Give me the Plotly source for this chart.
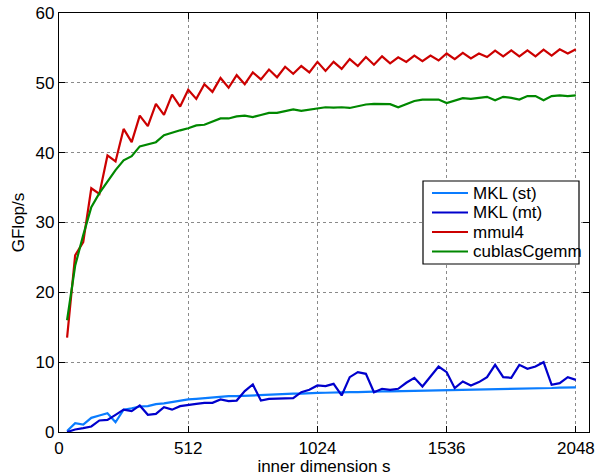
import plotly.graph_objects as go

s = list(range(32, 2049, 32))

mkl_st = [0.14, 1.26, 1.07, 2.03, 2.36, 2.7, 1.4, 3.2, 3.4, 3.65,
          3.7, 4.0, 4.1, 4.3, 4.47, 4.66, 4.75, 4.85, 4.9, 5.04,
          5.13, 5.13, 5.18, 5.28, 5.37, 5.42, 5.47, 5.5, 5.5, 5.5,
          5.6, 5.6, 5.62, 5.68, 5.68, 5.72, 5.72, 5.78, 5.8, 5.82,
          5.83, 5.85, 5.87, 5.88, 5.9, 5.92, 5.95, 6.05, 6.05, 6.08,
          6.1, 6.1, 6.12, 6.15, 6.15, 6.18, 6.2, 6.22, 6.25, 6.28,
          6.3, 6.35, 6.38, 6.4]

mkl_mt = [0.0, 0.36, 0.55, 0.79, 1.65, 1.74, 2.46, 3.2, 2.98, 3.8,
          2.46, 2.6, 3.56, 3.2, 3.7, 3.9, 4.04, 4.18, 4.18, 4.66,
          4.42, 4.5, 5.85, 6.8, 4.5, 4.75, 4.8, 4.85, 4.85, 5.7,
          6.04, 6.66, 6.57, 6.9, 5.23, 7.85, 8.57, 8.33, 5.7, 6.19,
          6.04, 6.19, 7.05, 7.76, 6.52, 7.95, 9.38, 8.57, 6.28, 7.23,
          6.66, 7.14, 7.85, 9.62, 7.85, 7.76, 9.62, 9.05, 9.38, 10.0,
          6.76, 7.0, 7.85, 7.47]

mmul4 = [13.5, 25.3, 27.2, 34.9, 34.1, 39.6, 38.75, 43.4, 41.5, 45.3,
         43.8, 47.0, 45.4, 48.3, 46.6, 49.0, 47.7, 49.8, 48.7, 50.7,
         49.3, 51.1, 49.8, 51.5, 50.5, 51.9, 50.8, 52.3, 51.3, 52.4,
         51.5, 53.0, 51.7, 53.0, 52.0, 53.4, 52.4, 53.7, 52.6, 53.8,
         52.8, 53.65, 53.0, 53.9, 53.1, 53.9, 53.2, 54.2, 53.4, 54.3,
         53.5, 54.2, 53.7, 54.6, 53.8, 54.65, 53.8, 54.65, 53.8, 54.75,
         53.9, 54.8, 54.2, 54.8]

cublas = [16.0, 23.8, 28.2, 32.2, 34.2, 35.8, 37.5, 38.9, 39.5, 40.9,
          41.2, 41.5, 42.5, 42.9, 43.2, 43.5, 43.9, 44.0, 44.5, 44.9,
          44.9, 45.2, 45.3, 45.1, 45.4, 45.7, 45.7, 46.0, 46.2, 46.0,
          46.2, 46.4, 46.5, 46.45, 46.5, 46.4, 46.7, 46.9, 47.0, 46.95,
          46.95, 46.5, 47.0, 47.4, 47.6, 47.6, 47.6, 47.1, 47.5, 47.8,
          47.7, 47.9, 48.0, 47.5, 48.0, 47.85, 47.6, 48.1, 48.1, 47.5,
          48.1, 48.2, 48.1, 48.2]

series_names = ["MKL (st)", "MKL (mt)", "mmul4", "cublasCgemm"]
series_values = [mkl_st, mkl_mt, mmul4, cublas]
series_colors = ["#0a7cff", "#0000cc", "#cc0000", "#008800"]

x_ticks = [0, 512, 1024, 1536, 2048]
y_ticks = [0, 10, 20, 30, 40, 50, 60]

W, H = 605, 476
ML, MR, MT, MB = 59, 16, 13, 44
PW, PH = W - ML - MR, H - MT - MB


def px_to_paper(px, py):
    return (px - ML) / PW, (H - MB - py) / PH


fig = go.Figure()
for name, vals, col in zip(series_names, series_values, series_colors):
    fig.add_trace(go.Scatter(x=s, y=vals, mode="lines", name=name,
                             line=dict(color=col, width=2.2)))

fam = "Liberation Sans, Arial, sans-serif"
font = dict(family=fam, size=17, color="black")
axis_common = dict(showline=True, linecolor="black", linewidth=1.2, mirror="ticks",
                   ticks="inside", ticklen=6, tickcolor="black", tickwidth=1,
                   showgrid=True, gridcolor="#8a8a8a", griddash="dot", gridwidth=1,
                   zeroline=False, tickfont=font, automargin=False)

# legend box drawn in paper coordinates (MATLAB-style compact legend)
shapes = []
annotations = []
x0, y0 = px_to_paper(423, 181)
x1, y1 = px_to_paper(579, 264)
shapes.append(dict(type="rect", xref="paper", yref="paper", x0=x0, y0=y0, x1=x1, y1=y1,
                   line=dict(color="black", width=1.2), fillcolor="white", layer="above"))
row_y = [193, 212.5, 232, 251.5]
for name, col, ry in zip(series_names, series_colors, row_y):
    lx0, ly = px_to_paper(432, ry)
    lx1, _ = px_to_paper(468, ry)
    shapes.append(dict(type="line", xref="paper", yref="paper", x0=lx0, x1=lx1, y0=ly, y1=ly,
                       line=dict(color=col, width=2.2), layer="above"))
    tx, _ = px_to_paper(471, ry)
    annotations.append(dict(xref="paper", yref="paper", x=tx, y=ly, text=name,
                            showarrow=False, xanchor="left", yanchor="middle",
                            font=dict(family=fam, size=17, color="black")))

fig.update_layout(
    width=W, height=H,
    margin=dict(l=ML, r=MR, t=MT, b=MB),
    paper_bgcolor="white", plot_bgcolor="white",
    font=font,
    showlegend=False,
    shapes=shapes,
    annotations=annotations,
    xaxis=dict(range=[0, 2100], tickvals=x_ticks,
               title=dict(text="inner dimension s", font=font, standoff=2),
               **axis_common),
    yaxis=dict(range=[0, 60], tickvals=y_ticks,
               title=dict(text="GFlop/s", font=font, standoff=6),
               **axis_common),
)

fig.write_html("out.html")
